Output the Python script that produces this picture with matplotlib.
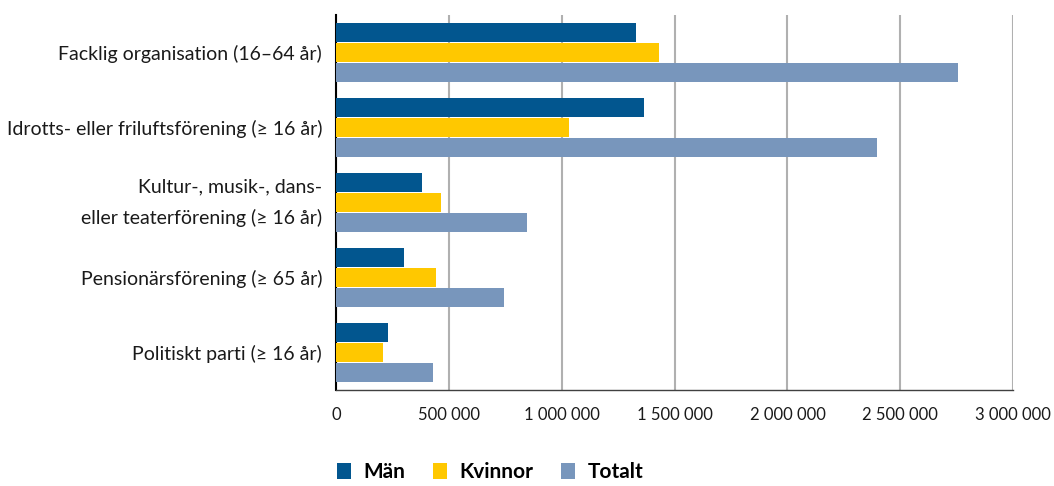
import matplotlib.pyplot as plt
import numpy as np
from matplotlib.ticker import FuncFormatter

plt.rcParams["font.family"] = ["Lato", "DejaVu Sans"]

categories = [
    "Facklig organisation (16–64 år)",
    "Idrotts- eller friluftsförening (≥ 16 år)",
    "Kultur-, musik-, dans-\neller teaterförening (≥ 16 år)",
    "Pensionärsförening (≥ 65 år)",
    "Politiskt parti (≥ 16 år)",
]
man = [1330000, 1365000, 383000, 303000, 232000]
kvinnor = [1431000, 1033000, 467000, 445000, 206000]
totalt = [2754000, 2396000, 847000, 746000, 431000]

series = [("Män", man, "#02568F"), ("Kvinnor", kvinnor, "#FFC800"), ("Totalt", totalt, "#7896BC")]

fig = plt.figure(figsize=(10.54, 4.86), dpi=100)
ax = fig.add_axes([0.3188, 0.1975, 0.6425, 0.7715])

y = np.arange(len(categories))
h = 0.253
for i, (name, vals, color) in enumerate(series):
    ax.barh(y + (i - 1) * (h + 0.013), vals, height=h, color=color, label=name, zorder=3)

ax.set_ylim(len(categories) - 0.5, -0.5)
ax.set_xlim(0, 3000000)
ax.set_yticks(y)
ax.set_yticklabels(categories, fontsize=14, color="#1a1a1a", linespacing=1.9)
for lbl in ax.get_yticklabels():
    if "\n" in lbl.get_text():
        lbl.set_verticalalignment("center")
ax.set_xticks(np.arange(0, 3000001, 500000))
ax.xaxis.set_major_formatter(FuncFormatter(lambda v, p: f"{int(v):,}".replace(",", " ")))
ax.tick_params(axis="x", length=0, pad=12, labelsize=12, labelcolor="#1a1a1a")
ax.tick_params(axis="y", length=0, pad=10)
ax.grid(axis="x", color="#b0b0b0", linewidth=1.5, zorder=0)

for s in ["top", "right"]:
    ax.spines[s].set_visible(False)
ax.spines["left"].set_color("black")
ax.spines["left"].set_linewidth(1.5)
ax.spines["bottom"].set_color("#404040")
ax.spines["bottom"].set_linewidth(1.0)

fig.legend(loc="lower center", bbox_to_anchor=(0.465, -0.03), ncol=3, frameon=False,
           prop={"weight": "bold", "size": 15}, handlelength=0.7, handleheight=0.8,
           columnspacing=1.3, handletextpad=0.6)

fig.savefig("out.png", dpi=100)
